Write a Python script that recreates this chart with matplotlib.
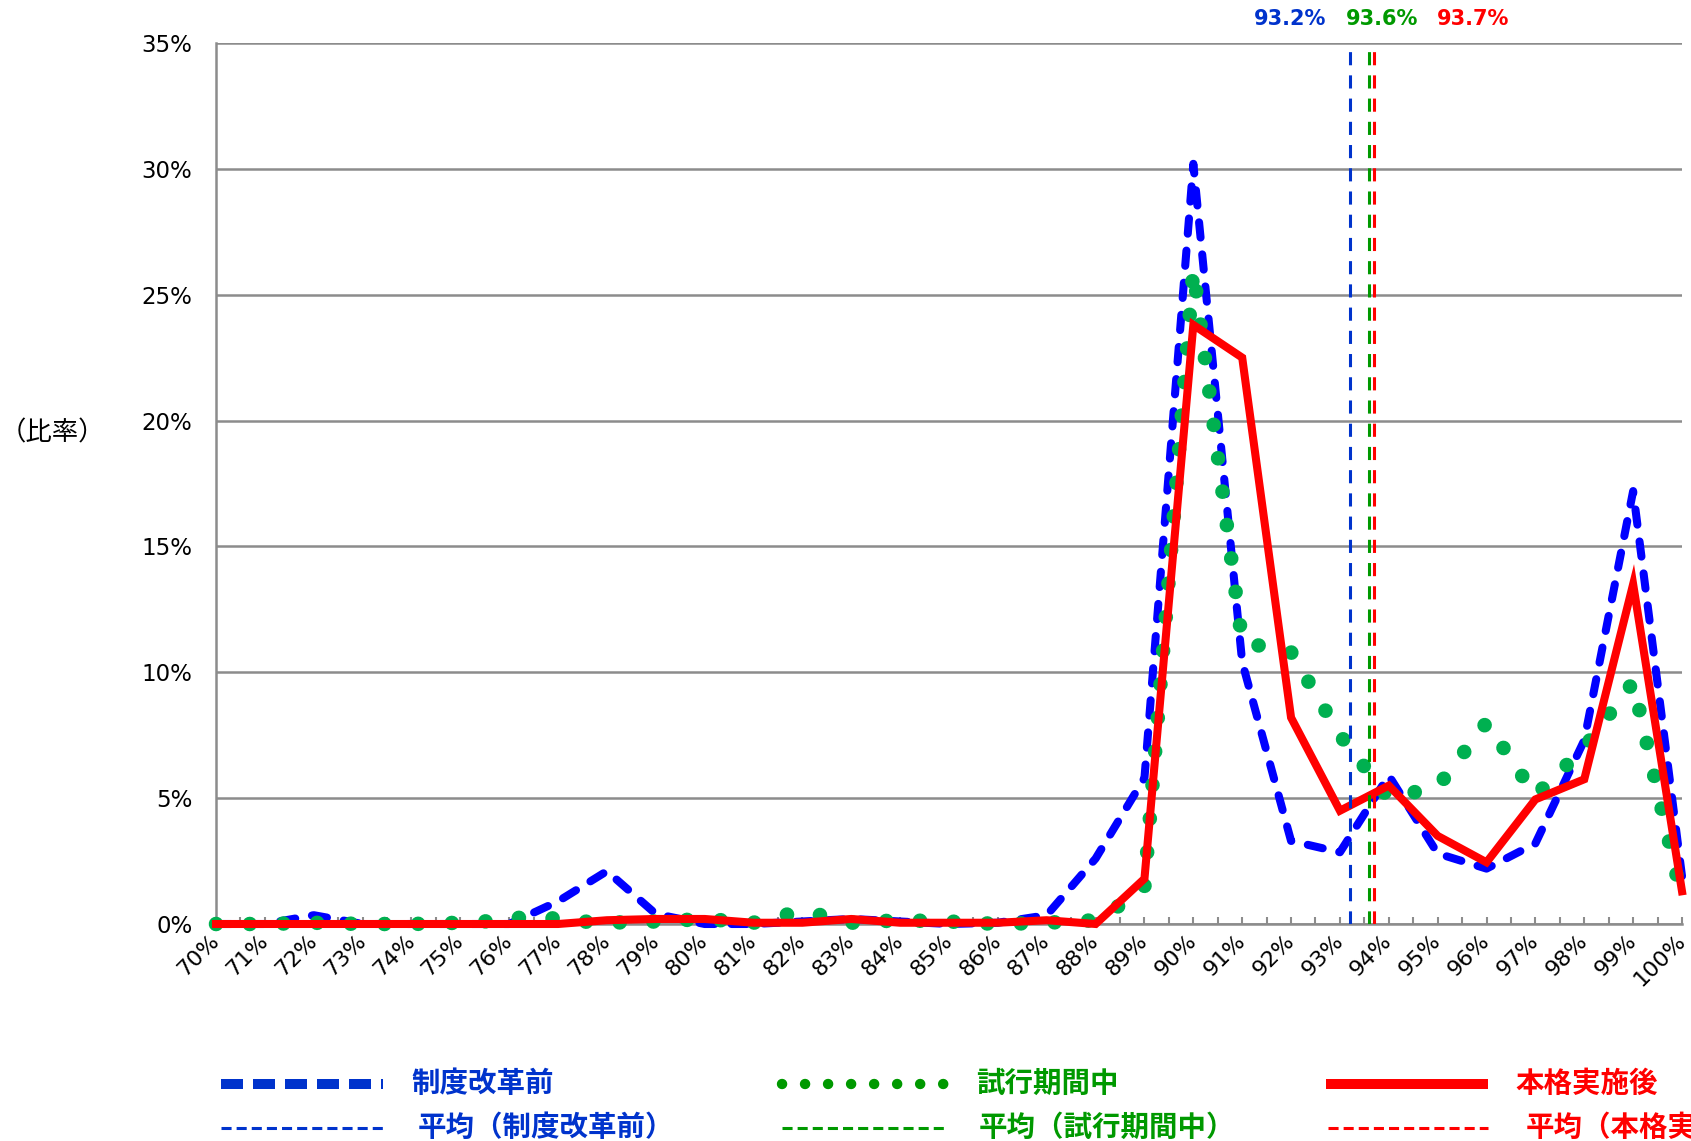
import matplotlib
matplotlib.use("Agg")
import matplotlib.pyplot as plt
from matplotlib.lines import Line2D
from matplotlib.ticker import MultipleLocator, FuncFormatter

plt.rcParams['font.family'] = ['DejaVu Sans', 'Noto Sans CJK JP']

# 制度改革前 (blue dashed)
before_x = list(range(70, 101))
before_y = [0, 0, 0.35, 0, 0, 0, 0, 0.9, 2.1, 0.4,
            0, 0, 0.1, 0.2, 0.1, 0, 0.05, 0.35, 2.6, 5.8,
            30.2, 10.4, 3.3, 2.85, 5.9, 2.8, 2.2, 3.2, 7.3, 17.2,
            1.9]

# 試行期間中 (green dotted)
trial_x = [70, 71, 72, 73, 74, 75, 75.5, 76, 77, 77.5, 78, 79, 80, 81, 81.5, 82,
           82.5, 83, 84, 85, 86, 87, 88, 88.5, 89, 90, 91, 92, 93, 94, 95, 96,
           97, 98, 99, 100]
trial_y = [0, 0, 0.05, 0, 0, 0.05, 0.1, 0.25, 0.22, 0.1, 0.05, 0.1, 0.2, 0.05, 0.3, 0.5,
           0.3, 0.05, 0.15, 0.1, 0, 0.05, 0.15, 0.75, 1.5, 26.0, 11.2, 10.8, 7.5, 5.0, 5.45, 8.0,
           5.1, 7.0, 9.6, 1.0]

# 本格実施後 (red solid)
after_x = list(range(70, 101))
after_y = [0, 0, 0, 0, 0, 0, 0, 0, 0.15, 0.2,
           0.2, 0.05, 0.05, 0.2, 0.05, 0.05, 0.05, 0.15, 0.0, 1.8,
           23.8, 22.5, 8.2, 4.5, 5.5, 3.5, 2.45, 4.95, 5.75, 13.5,
           1.3]

averages = [93.2, 93.6, 93.7]
avg_labels = ['93.2%', '93.6%', '93.7%']
avg_colors = ['#0033CC', '#009900', '#FF0000']

legend_names = ['制度改革前', '試行期間中', '本格実施後']
legend_avg_names = ['平均（制度改革前）', '平均（試行期間中）', '平均（本格実施後）']

W, H = 1691, 1141
GRID = '#8C8C8C'


def fx(x):
    return x / W


def fy(y):
    return 1 - y / H


fig = plt.figure(figsize=(W / 100, H / 100), dpi=100)
ax = fig.add_axes([fx(216), fy(924), (1682 - 216) / W, (924 - 43) / H])

ax.plot(before_x, before_y, color='#0000FF', lw=5.8, linestyle=(0, (1.9, 2.1)),
        dash_capstyle='round', dash_joinstyle='round', clip_on=False, zorder=3)
ax.plot(trial_x, trial_y, color='#00B050', lw=10.5, linestyle=(0, (0.01, 2.3)),
        dash_capstyle='round', clip_on=False, zorder=4)
ax.plot(after_x, after_y, color='#FF0000', lw=5.8, solid_joinstyle='miter',
        clip_on=False, zorder=5)

for v, c in zip(averages, avg_colors):
    ax.axvline(v, color=c, lw=2.2, linestyle=(0, (4.3, 3.3)), zorder=6)

ax.set_xlim(70, 100)
ax.set_ylim(0, 35)
ax.xaxis.set_major_locator(MultipleLocator(1))
ax.xaxis.set_minor_locator(MultipleLocator(0.5))
ax.yaxis.set_major_locator(MultipleLocator(5))
ax.xaxis.set_major_formatter(FuncFormatter(lambda v, p: f'{v:.0f}%'))
ax.yaxis.set_major_formatter(FuncFormatter(lambda v, p: f'{v:.0f}%'))
for lab in ax.get_xticklabels():
    lab.set_rotation(45)
    lab.set_ha('right')
    lab.set_va('center')
    lab.set_rotation_mode('anchor')
ax.tick_params(axis='x', which='both', direction='in', length=5, width=1.5,
               color=GRID, pad=10, labelsize=16)
ax.tick_params(axis='y', length=0, pad=17, labelsize=16.5)

ax.grid(axis='y', color=GRID, lw=1.8)
ax.set_axisbelow(True)
for s in ['top', 'right']:
    ax.spines[s].set_visible(False)
for s in ['left', 'bottom']:
    ax.spines[s].set_color(GRID)
    ax.spines[s].set_linewidth(1.8)

fig.text(fx(52), fy(433), '（比率）', family=['Noto Sans CJK JP'], fontsize=19,
         ha='center', va='center')

label_x = [1290, 1382, 1473]
for lx, t, c in zip(label_x, avg_labels, avg_colors):
    fig.text(fx(lx), fy(19), t, color=c, fontsize=15, fontweight='bold',
             ha='center', va='center')

# legend, row 1: series
row1, row2 = 1084, 1128
cols_line = [(221, 383), (782, 949), (1326, 1488)]
cols_text = [411, 976, 1515]
styles = [
    dict(color='#0033CC', lw=7.2, linestyle=(0, (2.2, 1.0)), dash_capstyle='butt'),
    dict(color='#009900', lw=7.5, linestyle=(0, (0.01, 2.2)), dash_capstyle='round'),
    dict(color='#FF0000', lw=7.2, linestyle='-', solid_capstyle='butt'),
]
for (x0, x1), tx, name, st, c in zip(cols_line, cols_text, legend_names, styles, avg_colors):
    fig.add_artist(Line2D([fx(x0), fx(x1)], [fy(row1), fy(row1)], transform=fig.transFigure, **st))
    fig.text(fx(tx), fy(row1), name, color=c, fontsize=20.5, fontweight='bold',
             family=['Noto Sans CJK JP'], ha='left', va='center')

# legend, row 2: averages
cols_line2 = [(221, 383), (782, 944), (1328, 1488)]
cols_text2 = [418, 979, 1526]
for (x0, x1), tx, name, c in zip(cols_line2, cols_text2, legend_avg_names, avg_colors):
    fig.add_artist(Line2D([fx(x0), fx(x1)], [fy(row2), fy(row2)], transform=fig.transFigure,
                          color=c, lw=2.2, linestyle=(0, (3.3, 1.65)), dash_capstyle='butt'))
    fig.text(fx(tx), fy(row2), name, color=c, fontsize=20.5, fontweight='bold',
             family=['Noto Sans CJK JP'], ha='left', va='center')

fig.savefig('out.png', dpi=100)
